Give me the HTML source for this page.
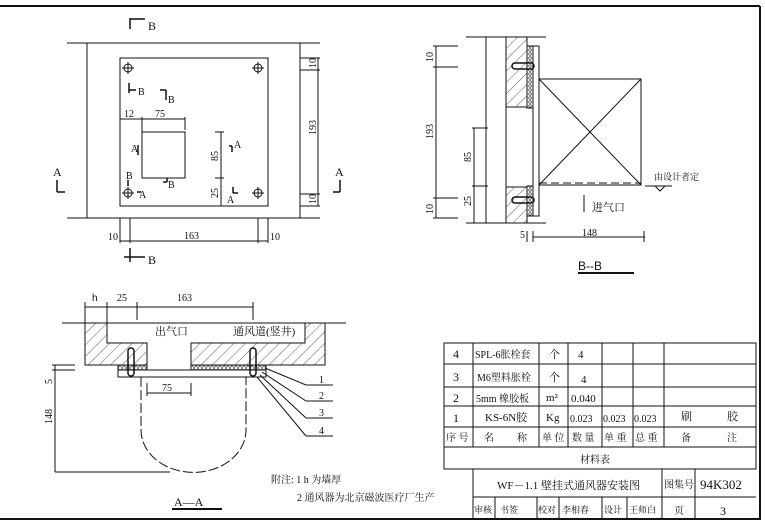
<!DOCTYPE html>
<html><head><meta charset="utf-8"><style>
html,body{margin:0;padding:0;background:#fff;}
svg{display:block;}
text{font-family:"Liberation Serif","Noto Serif CJK SC",serif;fill:#111;}
.c{font-family:"Liberation Sans","Noto Sans CJK SC",sans-serif;}
</style></head><body>
<svg width="765" height="525" viewBox="0 0 765 525" xmlns="http://www.w3.org/2000/svg">
<defs>
<pattern id="h" width="8" height="8" patternUnits="userSpaceOnUse" patternTransform="rotate(45)">
<rect width="8" height="8" fill="#fff"/><line x1="0" y1="0" x2="0" y2="8" stroke="#333" stroke-width="0.8"/></pattern>
<pattern id="r" width="4" height="4" patternUnits="userSpaceOnUse">
<rect width="4" height="4" fill="#fff"/><circle cx="2" cy="2" r="1.3" fill="none" stroke="#222" stroke-width="0.7"/></pattern>
</defs>
<g stroke="#111" fill="none" stroke-width="1">
<!-- border -->
<line x1="0" y1="6" x2="760" y2="6" stroke-width="2"/>
<line x1="760" y1="6" x2="760" y2="520" stroke-width="2"/>
<line x1="0" y1="519" x2="760" y2="519" stroke-width="2"/>

<!-- plan view -->
<line x1="67" y1="43" x2="320" y2="43"/>
<line x1="67" y1="218" x2="320" y2="218"/>
<line x1="87" y1="43" x2="87" y2="218"/>
<line x1="300" y1="43" x2="300" y2="218"/>
<rect x="120" y="58" width="148" height="148"/>
<rect x="142" y="132" width="43" height="46"/>
<g>
<circle cx="128" cy="68" r="4"/><line x1="122" y1="68" x2="134" y2="68"/><line x1="128" y1="62" x2="128" y2="74"/>
<circle cx="258" cy="68" r="4"/><line x1="252" y1="68" x2="264" y2="68"/><line x1="258" y1="62" x2="258" y2="74"/>
<circle cx="128" cy="193" r="4"/><line x1="122" y1="193" x2="134" y2="193"/><line x1="128" y1="187" x2="128" y2="199"/>
<circle cx="258" cy="193" r="4"/><line x1="252" y1="193" x2="264" y2="193"/><line x1="258" y1="187" x2="258" y2="199"/>
</g>
<!-- plan dims -->
<line x1="120" y1="119" x2="185" y2="119"/><line x1="142" y1="117" x2="142" y2="132"/><line x1="185" y1="117" x2="185" y2="130"/>
<line x1="221" y1="132" x2="221" y2="206"/><line x1="215" y1="132" x2="224" y2="132"/><line x1="215" y1="178" x2="224" y2="178"/>
<line x1="318" y1="58" x2="318" y2="206"/><line x1="300" y1="58" x2="320" y2="58"/><line x1="300" y1="70" x2="320" y2="70"/><line x1="300" y1="194" x2="320" y2="194"/><line x1="300" y1="206" x2="320" y2="206"/>
<line x1="120" y1="241" x2="268" y2="241"/><line x1="120" y1="218" x2="120" y2="243"/><line x1="130" y1="218" x2="130" y2="243"/><line x1="258" y1="218" x2="258" y2="243"/><line x1="268" y1="218" x2="268" y2="243"/>
<!-- section marks -->
<g stroke-width="1.5">
<line x1="130" y1="18" x2="130" y2="29"/><line x1="130" y1="19" x2="145" y2="19"/>
<line x1="130" y1="248" x2="130" y2="262"/><line x1="124" y1="257" x2="145" y2="257"/>
<line x1="57" y1="180" x2="57" y2="192"/><line x1="57" y1="192" x2="65" y2="192"/>
<line x1="340" y1="180" x2="340" y2="192"/><line x1="333" y1="192" x2="340" y2="192"/>
<line x1="129" y1="83" x2="129" y2="93"/><line x1="129" y1="90" x2="136" y2="90"/>
<line x1="166" y1="90" x2="166" y2="100"/><line x1="160" y1="90" x2="166" y2="90"/>
<line x1="138" y1="145" x2="138" y2="155"/><line x1="229" y1="146" x2="232" y2="146"/><line x1="232" y1="146" x2="232" y2="152"/>
<line x1="167" y1="178" x2="167" y2="182"/><line x1="163" y1="182" x2="167" y2="182"/>
<line x1="128" y1="180" x2="128" y2="186"/><line x1="137" y1="192" x2="141" y2="192"/>
<line x1="233" y1="187" x2="233" y2="193"/><line x1="233" y1="193" x2="238" y2="193"/>
</g>

<!-- B-B -->
<line x1="466" y1="37" x2="546" y2="37"/>
<line x1="466" y1="223" x2="546" y2="223"/>
<line x1="486" y1="37" x2="486" y2="223"/>
<rect x="506" y="37" width="21" height="70" fill="url(#h)"/>
<rect x="506" y="187" width="21" height="36" fill="url(#h)"/>
<line x1="506" y1="107" x2="506" y2="187"/>
<rect x="527" y="46" width="6" height="62" fill="url(#r)"/>
<rect x="527" y="186" width="6" height="30" fill="url(#r)"/>
<rect x="533" y="46" width="6" height="170"/>
<rect x="539" y="79" width="102" height="106"/>
<line x1="539" y1="79" x2="641" y2="185"/><line x1="641" y1="79" x2="539" y2="185"/>
<line x1="539" y1="183" x2="641" y2="183" stroke-dasharray="8,4"/>
<g stroke-width="1.5"><rect x="512" y="63" width="22" height="6" rx="3"/><rect x="512" y="197" width="22" height="6" rx="3"/></g>
<line x1="645" y1="186" x2="672" y2="186"/><path d="M655 186 L660 191 L665 186"/>
<line x1="584" y1="195" x2="584" y2="212"/>
<!-- BB dims -->
<line x1="436" y1="46" x2="436" y2="218"/>
<line x1="433" y1="46" x2="458" y2="46"/><line x1="433" y1="67" x2="458" y2="67"/><line x1="433" y1="198" x2="458" y2="198"/><line x1="433" y1="218" x2="458" y2="218"/>
<line x1="474" y1="128" x2="474" y2="223"/><line x1="472" y1="128" x2="488" y2="128"/><line x1="472" y1="186" x2="488" y2="186"/>
<line x1="527" y1="231" x2="527" y2="242"/><line x1="533" y1="231" x2="533" y2="242"/><line x1="533" y1="237" x2="645" y2="237"/><line x1="644" y1="231" x2="644" y2="242"/>
<line x1="578" y1="273" x2="634" y2="273" stroke-width="2"/>

<!-- A-A -->
<line x1="62" y1="323" x2="346" y2="323"/>
<path d="M85 323 H107 V343 H147 V365 H85 Z" fill="url(#h)"/>
<path d="M305 323 H325 V365 H191 V343 H305 Z" fill="url(#h)"/>
<rect x="118" y="365" width="29" height="5" fill="url(#r)"/>
<rect x="191" y="365" width="75" height="5" fill="url(#r)"/>
<rect x="118" y="370" width="148" height="7"/>
<path d="M141 377 V430 A52 42 0 0 0 246 430 V377" stroke-dasharray="10,3"/>
<g stroke-width="1.5"><rect x="128" y="348" width="6" height="28" rx="3"/><rect x="250" y="348" width="6" height="28" rx="3"/></g>
<line x1="85" y1="307" x2="253" y2="307"/><line x1="85" y1="302" x2="85" y2="323"/><line x1="107" y1="302" x2="107" y2="323"/><line x1="137" y1="302" x2="137" y2="320"/><line x1="253" y1="302" x2="253" y2="320"/>
<line x1="147" y1="393" x2="191" y2="393"/><line x1="147" y1="383" x2="147" y2="396"/><line x1="191" y1="383" x2="191" y2="396"/>
<line x1="55" y1="365" x2="55" y2="472"/><line x1="55" y1="472" x2="170" y2="472"/><line x1="52" y1="365" x2="75" y2="365"/><line x1="52" y1="370" x2="75" y2="370"/>
<line x1="265" y1="368" x2="306" y2="385"/><line x1="262" y1="372" x2="306" y2="401"/><line x1="260" y1="375" x2="306" y2="418"/><line x1="257" y1="377" x2="306" y2="436"/>
<line x1="306" y1="385" x2="333" y2="385"/><line x1="306" y1="401" x2="333" y2="401"/><line x1="306" y1="418" x2="333" y2="418"/><line x1="306" y1="436" x2="333" y2="436"/>
<line x1="172" y1="509" x2="222" y2="509" stroke-width="2"/>

<!-- table -->
<rect x="444" y="343" width="312" height="126"/>
<line x1="444" y1="364" x2="756" y2="364"/><line x1="444" y1="387" x2="756" y2="387"/><line x1="444" y1="406" x2="756" y2="406"/><line x1="444" y1="427" x2="756" y2="427"/><line x1="444" y1="447" x2="756" y2="447"/>
<line x1="473" y1="343" x2="473" y2="447"/><line x1="539" y1="343" x2="539" y2="447"/><line x1="568" y1="343" x2="568" y2="447"/><line x1="602" y1="343" x2="602" y2="447"/><line x1="633" y1="343" x2="633" y2="447"/><line x1="664" y1="343" x2="664" y2="447"/>
<line x1="473" y1="469" x2="473" y2="519"/><line x1="473" y1="497" x2="756" y2="497"/>
<line x1="662" y1="469" x2="662" y2="519"/><line x1="695" y1="469" x2="695" y2="519"/>
<line x1="495" y1="497" x2="495" y2="519"/><line x1="537" y1="497" x2="537" y2="519"/><line x1="559" y1="497" x2="559" y2="519"/><line x1="602" y1="497" x2="602" y2="519"/><line x1="627" y1="497" x2="627" y2="519"/>
</g>

<g font-size="12">
<text x="148" y="30">B</text><text x="148" y="264">B</text>
<text x="53" y="176">A</text><text x="335" y="176">A</text>
<text x="138" y="95" font-size="10">B</text><text x="168" y="103" font-size="10">B</text>
<text x="131" y="152" font-size="10">A</text><text x="234" y="148" font-size="10">A</text>
<text x="168" y="188" font-size="10">B</text><text x="126" y="179" font-size="10">B</text><text x="139" y="198" font-size="10">A</text><text x="227" y="203" font-size="10">A</text>
</g>
<g font-size="10">
<text x="124" y="117">12</text><text x="155" y="117">75</text>
<text x="184" y="239">163</text><text x="108" y="240">10</text><text x="270" y="240">10</text>
<text transform="translate(218,161) rotate(-90)">85</text>
<text transform="translate(218,198) rotate(-90)">25</text>
<text transform="translate(316,68) rotate(-90)">10</text>
<text transform="translate(316,135) rotate(-90)">193</text>
<text transform="translate(316,204) rotate(-90)">10</text>
<text transform="translate(433,62) rotate(-90)">10</text>
<text transform="translate(433,139) rotate(-90)">193</text>
<text transform="translate(433,214) rotate(-90)">10</text>
<text transform="translate(471,162) rotate(-90)">85</text>
<text transform="translate(471,206) rotate(-90)">25</text>
<text x="520" y="238">5</text><text x="582" y="236">148</text>
<text x="92" y="301" class="c">h</text><text x="117" y="301">25</text><text x="177" y="301">163</text>
<text x="162" y="391">75</text>
<text transform="translate(52,384) rotate(-90)">5</text>
<text transform="translate(52,424) rotate(-90)">148</text>
<text x="319" y="383">1</text><text x="319" y="399">2</text><text x="319" y="416">3</text><text x="319" y="434">4</text>
</g>
<g class="c" font-size="11">
<text x="592" y="211">进气口</text>
<text x="654" y="180" font-size="9">由设计者定</text>
<text x="155" y="335">出气口</text>
<text x="233" y="335">通风道(竖井)</text>
<text x="271" y="483" font-size="10">附注: 1 h 为墙厚</text>
<text x="297" y="501" font-size="10">2 通风器为北京磁波医疗厂生产</text>
</g>
<text x="578" y="270" font-size="12" class="c">B--B</text>
<text x="174" y="506" font-size="12">A—A</text>

<!-- table text -->
<g font-size="11" class="c">
<text x="453" y="358" font-size="12">4</text><text x="475" y="358" font-size="10">SPL-6胀栓套</text><text x="549" y="358">个</text><text x="578" y="358">4</text>
<text x="453" y="381" font-size="12">3</text><text x="477" y="381" font-size="10">M6塑料胀栓</text><text x="549" y="381">个</text><text x="581" y="383">4</text>
<text x="453" y="402" font-size="12">2</text><text x="476" y="402" font-size="10">5mm 橡胶板</text><text x="546" y="401">m²</text><text x="571" y="402">0.040</text>
<text x="453" y="422" font-size="12">1</text><text x="485" y="421">KS-6N胶</text><text x="546" y="421">Kg</text><text x="570" y="422" font-size="10">0.023</text><text x="603" y="422" font-size="10">0.023</text><text x="634" y="422" font-size="10">0.023</text><text x="681" y="420">刷</text><text x="727" y="420">胶</text>
<text x="446" y="441" font-size="10">序 号</text><text x="484" y="441" font-size="10">名</text><text x="517" y="441" font-size="10">称</text><text x="542" y="441" font-size="10">单 位</text><text x="572" y="441" font-size="10">数 量</text><text x="604" y="441" font-size="10">单 重</text><text x="635" y="441" font-size="10">总 重</text><text x="681" y="441" font-size="10">备</text><text x="727" y="441" font-size="10">注</text>
<text x="580" y="463" font-size="10">材料表</text>
<text x="497" y="489">WF－1.1 壁挂式通风器安装图</text>
<text x="664" y="488" font-size="10">图集号</text><text x="700" y="489" font-size="13">94K302</text>
<text x="474" y="513" font-size="9">审核</text><text x="500" y="513" font-size="9">书签</text><text x="538" y="513" font-size="9">校对</text><text x="562" y="513" font-size="9">李相春</text><text x="604" y="513" font-size="9">设计</text><text x="629" y="513" font-size="9">王师白</text>
<text x="674" y="514" font-size="10">页</text><text x="720" y="515" font-size="12">3</text>
</g>
</svg>
</body></html>
